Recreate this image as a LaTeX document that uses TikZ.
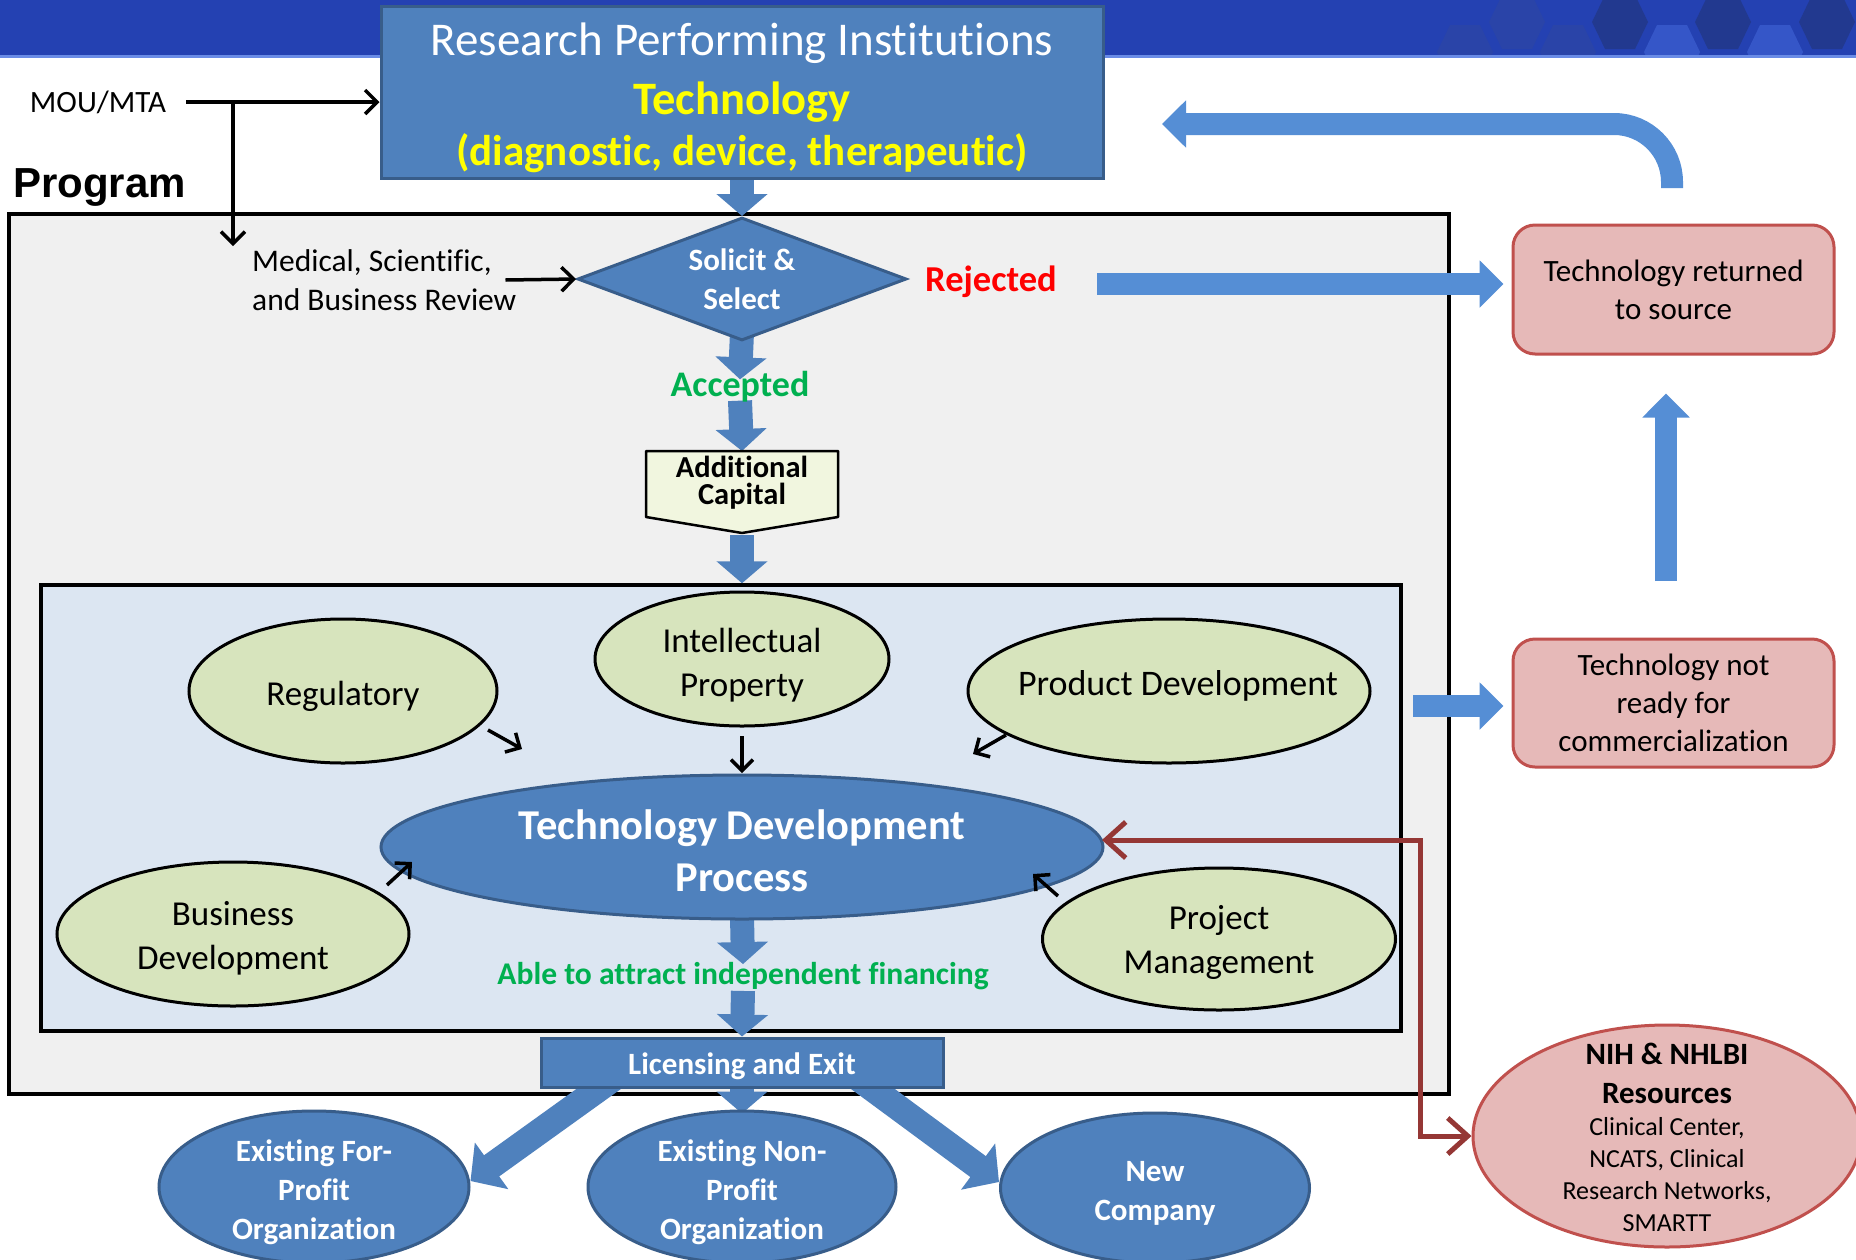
\documentclass[tikz,border=0pt]{standalone}
\usepackage{fontspec}
\setmainfont{Carlito}[Ligatures=NoCommon]
\newfontfamily\arialfont{Liberation Sans}
\usetikzlibrary{arrows.meta,shapes.geometric,calc}
\definecolor{pblue}{HTML}{4F81BD}
\definecolor{pborder}{HTML}{385D8A}
\definecolor{rblue}{HTML}{558ED5}
\definecolor{gfill}{HTML}{D7E4BD}
\definecolor{innerfill}{HTML}{DCE6F2}
\definecolor{progfill}{HTML}{F0F0F0}
\definecolor{capfill}{HTML}{F1F6DF}
\definecolor{pinkfill}{HTML}{E6B9B8}
\definecolor{pinkborder}{HTML}{C0504D}
\definecolor{darkred}{HTML}{953735}
\definecolor{accgreen}{HTML}{00B050}
\definecolor{rejred}{HTML}{FF0000}
\definecolor{yel}{HTML}{FFFF00}
\definecolor{hdr}{HTML}{2441B2}
\definecolor{hdrline}{HTML}{6A8CE6}
\definecolor{hexdark}{HTML}{22398F}
\definecolor{hexmid}{HTML}{2A44A8}
\definecolor{hexlight}{HTML}{3556C8}
\newcommand\myfs[2]{\fontsize{#1}{#2}\selectfont}
\pgfdeclarelayer{back}
\pgfdeclarelayer{mid}
\pgfsetlayers{back,mid,main}
\begin{document}
\begin{tikzpicture}[x=1pt,y=-1pt,
  pbox/.style={fill=pblue, draw=pborder, line width=3pt},
  flow/.style={draw=pblue, line width=24pt, -{Triangle[length=22pt,width=50pt]}},
  dflow/.style={draw=pblue, line width=26pt, -{Triangle[length=26pt,width=56pt]}},
  rflow/.style={draw=rblue, line width=22pt, -{Triangle[length=24pt,width=46pt]}},
  blk/.style={draw=black, line width=3.5pt, -{Straight Barb[length=12pt,width=24pt]}},
  sblk/.style={draw=black, line width=3.5pt, -{Straight Barb[length=11pt,width=22pt]}},
  redc/.style={draw=darkred, line width=5pt, {Straight Barb[length=20pt,width=36pt]}-{Straight Barb[length=20pt,width=36pt]}},
  gell/.style={ellipse, fill=gfill, draw=black, line width=3pt, inner sep=0pt},
  gtext/.style={align=center, inner sep=0pt, font=\myfs{35}{44}},
  bell/.style={ellipse, pbox, inner sep=0pt},
  btext/.style={align=center, inner sep=0pt, text=white, font=\bfseries\myfs{31}{39}},
  pinkbox/.style={rectangle, rounded corners=22pt, fill=pinkfill, draw=pinkborder, line width=3pt, align=center, font=\myfs{31}{38}}
]
\useasboundingbox (0,0) rectangle (1856,1259);
\begin{pgfonlayer}{back}
\fill[white] (0,0) rectangle (1856,1259);
% header band
\fill[hdr] (0,0) rectangle (1856,57);
\foreach \cx/\cy/\cc in {1465/52/hexmid,1517/22/hexmid,1568/52/hexmid,1620/22/hexdark,1672/52/hexlight,1723/22/hexdark,1775/52/hexlight,1827/22/hexdark}{
  \fill[\cc, shift={(\cx,\cy)}] (-28,0) -- (-15,-27) -- (15,-27) -- (28,0) -- (15,27) -- (-15,27) -- cycle;
}
\fill[white] (0,57) rectangle (1856,1259);
\fill[hdrline] (0,55) rectangle (1856,58);
% program and inner boxes
\node[draw=black, fill=progfill, line width=3.5pt, minimum width=1440pt, minimum height=880pt, inner sep=0pt] (prog) at (729,654) {};
\node[draw=black, fill=innerfill, line width=3.5pt, minimum width=1360pt, minimum height=446pt, inner sep=0pt] (inner) at (721,808) {};
\end{pgfonlayer}

% top box
\node[pbox, minimum width=722pt, minimum height=172pt, inner sep=0pt] (top) at (742,92) {};
\node[text=white, font=\myfs{47}{50}, inner sep=0pt] (t1) at (742,43) {Research Performing Institutions};
\node[text=yel, font=\bfseries\myfs{46.5}{50}, inner sep=0pt] (t2) at (742,102) {Technology};
\node[text=yel, font=\bfseries\myfs{43}{50}, inner sep=0pt] (t3) at (742,153) {(diagnostic, device, therapeutic)};

% MOU/MTA
\node[font=\myfs{31}{36}, inner sep=0pt] (mou) at (98,102) {MOU/MTA};
\coordinate (mouend) at (186,102);
\coordinate (mouj) at (233,102);
\coordinate (medtop) at (233,246);
\draw[blk] (mouend) -- (mouend -| top.west);
\draw[blk] (mouj) -- (medtop);

\node[anchor=west, font=\arialfont\bfseries\myfs{42}{46}, inner sep=0pt] (program) at (13,187) {Program};

% review and diamond
\node[anchor=west, align=left, font=\myfs{31.5}{39}, inner sep=0pt] (med) at (252,280) {Medical, Scientific,\\and Business Review};
\node[diamond, pbox, minimum width=329pt, minimum height=123pt, inner sep=0pt, shape aspect=2.67, text=white, font=\bfseries\myfs{31}{39}, align=center] (diam) at (742,279) {Solicit \&\\Select};
\draw[blk] ([xshift=-11pt]med.east) -- (diam.west);
\node[text=rejred, font=\bfseries\myfs{36.5}{40}, inner sep=0pt] (rej) at (991,282) {Rejected};
\node[text=accgreen, font=\bfseries\myfs{36}{40}, inner sep=0pt] (acc) at (740,387) {Accepted};

% additional capital
\coordinate (capA) at (646,451);
\coordinate (capB) at (838,451);
\coordinate (capC) at (838,517);
\coordinate (capD) at (742,533);
\coordinate (capE) at (646,517);
\filldraw[fill=capfill, draw=black, line width=2.5pt, line join=round] (capA) -- (capB) -- (capC) -- (capD) -- (capE) -- cycle;
\node[align=center, font=\bfseries\myfs{30.5}{27}, inner sep=0pt] (cap) at (742,483) {Additional\\Capital};

% development ellipses
\node[gell, minimum width=308pt, minimum height=144pt] (reg) at (343,691) {};
\node[gtext] (regT) at (343,696) {Regulatory};
\node[gell, minimum width=294pt, minimum height=134pt] (ip) at (742,659) {};
\node[gtext] (ipT) at (742,665) {Intellectual\\Property};
\node[gell, minimum width=402pt, minimum height=144pt] (pd) at (1169,691) {};
\node[gtext, font=\myfs{36}{44}] (pdT) at (1178,686) {Product Development};
\node[gell, minimum width=352pt, minimum height=144pt] (bd) at (233,934) {};
\node[gtext] (bdT) at (233,938) {Business\\Development};
\node[gell, minimum width=353pt, minimum height=142pt] (pm) at (1219,939) {};
\node[gtext] (pmT) at (1219,942) {Project\\Management};
\node[ellipse, pbox, inner sep=0pt, minimum width=722pt, minimum height=144pt] (tdp) at (742,847) {};
\node[align=center, inner sep=0pt, text=white, font=\bfseries\myfs{42.5}{52}] (tdpT) at (742,851) {Technology Development\\Process};

\coordinate (a1s) at (488,730); \coordinate (a1e) at (522,749);
\coordinate (a2s) at (742,736); \coordinate (a2e) at (742,773);
\coordinate (a3s) at (1006,735); \coordinate (a3e) at (973,754);
\coordinate (a4s) at (387,885); \coordinate (a4e) at (412,862);
\coordinate (a5s) at (1058,896); \coordinate (a5e) at (1033,874);
\draw[sblk] (a1s) -- (a1e);
\draw[sblk] (a2s) -- (a2e);
\draw[sblk] (a3s) -- (a3e);
\draw[sblk] (a4s) -- (a4e);
\draw[sblk] (a5s) -- (a5e);

\node[text=accgreen, font=\bfseries\myfs{31.6}{36}, inner sep=0pt] (able) at (743,976) {Able to attract independent financing};

% licensing and outcomes
\node[pbox, minimum width=402pt, minimum height=49pt, inner sep=0pt] (lic) at (742,1062.5) {};
\node[inner sep=0pt, text=white, font=\bfseries\myfs{31}{36}] (licT) at (742,1066) {Licensing and Exit};
\node[bell, minimum width=310pt, minimum height=152pt] (fp) at (314,1187) {};
\node[btext] (fpT) at (314,1192) {Existing For-\\Profit\\Organization};
\node[bell, minimum width=308pt, minimum height=152pt] (np) at (742,1187) {};
\node[btext] (npT) at (742,1192) {Existing Non-\\Profit\\Organization};
\node[bell, minimum width=309pt, minimum height=150pt] (nc) at (1155,1188) {};
\node[btext] (ncT) at (1155,1193) {New\\Company};

% right side
\node[pinkbox, minimum width=321pt, minimum height=129pt] (trs) at (1673.5,289.5) {Technology returned\\to source};
\node[pinkbox, minimum width=321pt, minimum height=128pt] (nr) at (1673.5,703) {Technology not\\ready for\\commercialization};
\node[ellipse, fill=pinkfill, draw=pinkborder, line width=3pt, minimum width=388pt, minimum height=222pt, inner sep=0pt] (nih) at (1667,1136) {};
\node[align=center, font=\bfseries\myfs{31}{39}, inner sep=0pt] (nihA) at (1667,1073) {NIH \& NHLBI\\Resources};
\node[align=center, font=\myfs{26}{32}, inner sep=0pt] (nihB) at (1667,1175) {Clinical Center,\\NCATS, Clinical\\Research Networks,\\SMARTT};

% flow arrows (behind nodes)
\begin{pgfonlayer}{mid}
\draw[flow] (top.south) -- (diam.north);
\draw[flow] ([yshift=10pt]diam.south) -- ([yshift=-8pt]acc.north);
\draw[flow] ([yshift=2pt]acc.south) -- ($(capA)!0.5!(capB)$);
\draw[flow] ([yshift=-2pt]capD) -- (capD |- inner.north);
\draw[flow] ([yshift=4pt]tdp.south) -- ([yshift=-2pt]able.north);
\draw[flow] ([yshift=-1pt]able.south) -- (lic.north);
\draw[dflow] ([xshift=-126pt,yshift=12pt]lic.south) -- ([yshift=6pt]fp.east);
\draw[flow] ([yshift=4pt]lic.south) -- ([yshift=-4pt]np.north);
\draw[dflow] ([xshift=114pt,yshift=12pt]lic.south) -- ([yshift=6pt]nc.west);
\end{pgfonlayer}

\coordinate (rejstart) at (1097,284);
\draw[rflow] (rejstart) -- ([xshift=-8pt]rejstart -| trs.west);
\coordinate (ret1) at (1672,188);
\coordinate (retc) at (1672,124);
\coordinate (ret2) at (1162,124);
\draw[rflow, rounded corners=58pt] (ret1) -- (retc) -- (ret2);
\coordinate (upstart) at (1666,581);
\draw[rflow] (upstart) -- ([yshift=-38pt]upstart |- trs.south);
\coordinate (nrstart) at (1413,706);
\draw[rflow] (nrstart) -- ([xshift=-8pt]nrstart -| nr.west);

\coordinate (rb0) at (1102,840);
\coordinate (rb1) at (1420,840);
\coordinate (rb2) at (1420,1136);
\draw[redc] (rb0) -- (rb1) -- (rb2) -- (nih.west);
\end{tikzpicture}
\end{document}
